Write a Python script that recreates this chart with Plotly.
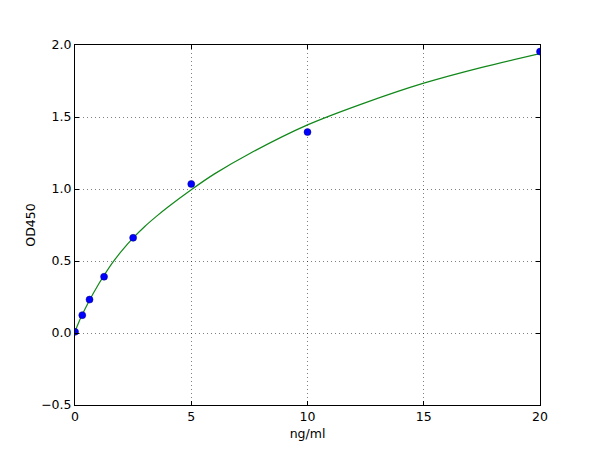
import plotly.graph_objects as go

# Measured standards (concentration ng/ml, OD450)
conc = [0, 0.3125, 0.625, 1.25, 2.5, 5, 10, 20]
od450 = [0.008, 0.124, 0.232, 0.391, 0.661, 1.035, 1.395, 1.954]

# Fitted curve
curve_x = [0, 0.15, 0.3125, 0.625, 1.0, 1.25, 1.6, 2.0, 2.5, 3.0, 3.5, 4.0,
           5.0, 6.0, 7.5, 10, 12.5, 15, 17.5, 20]
curve_y = [0.01, 0.07, 0.128, 0.228, 0.335, 0.40, 0.485, 0.568, 0.66, 0.74,
           0.81, 0.875, 0.995, 1.105, 1.245, 1.445, 1.60, 1.735, 1.845, 1.94]

x_ticks = [0, 5, 10, 15, 20]
y_ticks = [-0.5, 0.0, 0.5, 1.0, 1.5, 2.0]

font = dict(family="DejaVu Sans", size=12.5, color="black")

fig = go.Figure()
fig.add_trace(go.Scatter(
    x=curve_x, y=curve_y, mode="lines",
    line=dict(color="#11881a", width=1.2, shape="spline", smoothing=0.8),
    showlegend=False, hoverinfo="skip"))
fig.add_trace(go.Scatter(
    x=conc, y=od450, mode="markers",
    marker=dict(color="#0000ff", size=7, line=dict(color="#000080", width=0.5)),
    showlegend=False))

axis_common = dict(
    showline=True, linecolor="black", linewidth=1, mirror="ticks",
    ticks="inside", ticklen=4, tickwidth=1, tickcolor="black",
    showgrid=True, gridcolor="rgba(0,0,0,0.5)", gridwidth=0.6, griddash="1px,3px",
    zeroline=False, tickfont=font, automargin=False,
)

fig.update_xaxes(range=[0, 20], tickvals=x_ticks,
                 ticktext=[str(v) for v in x_ticks],
                 title=dict(text="ng/ml", font=font, standoff=6), **axis_common)
fig.update_yaxes(range=[-0.5, 2.0], tickvals=y_ticks, tickformat=".1f",
                 title=dict(text="OD450", font=font, standoff=2), **axis_common)

fig.update_layout(
    width=600, height=450,
    margin=dict(l=67, r=68, t=37, b=53),
    paper_bgcolor="white", plot_bgcolor="white",
    font=font,
)

fig.write_html("out.html")
